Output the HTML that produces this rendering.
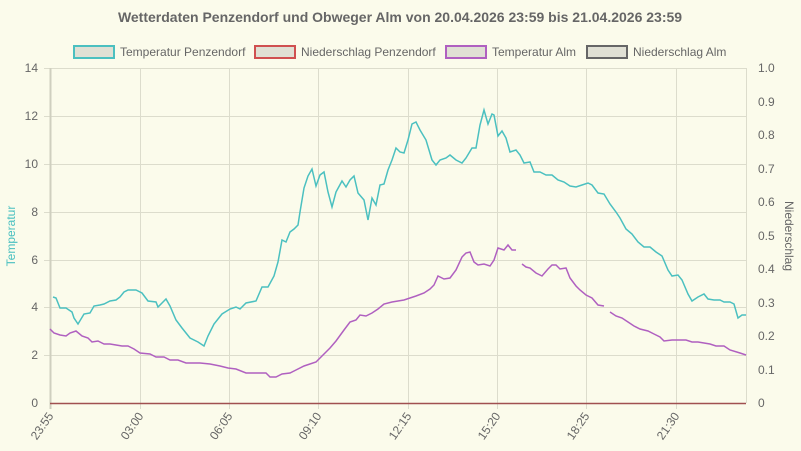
<!DOCTYPE html><html><head><meta charset="utf-8"><style>body{margin:0;background:#fbfbeb}svg{display:block;font-family:"Liberation Sans",sans-serif}</style></head><body>
<svg width="801" height="451" xmlns="http://www.w3.org/2000/svg">
<rect width="801" height="451" fill="#fbfbeb"/>
<text x="400" y="22" text-anchor="middle" font-size="14" font-weight="bold" fill="#666">Wetterdaten Penzendorf und Obweger Alm von 20.04.2026 23:59 bis 21.04.2026 23:59</text>
<g font-size="12" fill="#666">
<rect x="74" y="46" width="40" height="12" fill="#e0e0d4" stroke="#4bc0c0" stroke-width="2"/><text x="120" y="56">Temperatur Penzendorf</text>
<rect x="255" y="46" width="40" height="12" fill="#e0e0d4" stroke="#d05050" stroke-width="2"/><text x="301" y="56">Niederschlag Penzendorf</text>
<rect x="446" y="46" width="40" height="12" fill="#e0e0d4" stroke="#b060c0" stroke-width="2"/><text x="492" y="56">Temperatur Alm</text>
<rect x="587" y="46" width="40" height="12" fill="#e0e0d4" stroke="#666" stroke-width="2"/><text x="633" y="56">Niederschlag Alm</text>
</g>
<g stroke="#dcdccc" stroke-width="1">
<line x1="44" y1="68.5" x2="746" y2="68.5"/><line x1="44" y1="116.5" x2="746" y2="116.5"/><line x1="44" y1="164.5" x2="746" y2="164.5"/><line x1="44" y1="212.5" x2="746" y2="212.5"/><line x1="44" y1="260.5" x2="746" y2="260.5"/><line x1="44" y1="307.5" x2="746" y2="307.5"/><line x1="44" y1="355.5" x2="746" y2="355.5"/>
<line x1="140.5" y1="68" x2="140.5" y2="409"/><line x1="229.5" y1="68" x2="229.5" y2="409"/><line x1="318.5" y1="68" x2="318.5" y2="409"/><line x1="408.5" y1="68" x2="408.5" y2="409"/><line x1="497.5" y1="68" x2="497.5" y2="409"/><line x1="586.5" y1="68" x2="586.5" y2="409"/><line x1="676.5" y1="68" x2="676.5" y2="409"/><line x1="746.5" y1="68" x2="746.5" y2="403"/>
</g>
<line x1="50.5" y1="68" x2="50.5" y2="409" stroke="#cfcfbf" stroke-width="2"/>
<g font-size="12" fill="#666" text-anchor="end">
<text x="38" y="72">14</text><text x="38" y="120">12</text><text x="38" y="168">10</text><text x="38" y="216">8</text><text x="38" y="264">6</text><text x="38" y="311">4</text><text x="38" y="359">2</text><text x="38" y="407">0</text>
</g>
<g font-size="12" fill="#666">
<text x="758" y="72">1.0</text><text x="758" y="106">0.9</text><text x="758" y="139">0.8</text><text x="758" y="173">0.7</text><text x="758" y="206">0.6</text><text x="758" y="240">0.5</text><text x="758" y="273">0.4</text><text x="758" y="307">0.3</text><text x="758" y="340">0.2</text><text x="758" y="374">0.1</text><text x="758" y="407">0</text>
</g>
<text transform="translate(15,236) rotate(-90)" text-anchor="middle" font-size="12" fill="#4bc0c0">Temperatur</text>
<text transform="translate(785,236) rotate(90)" text-anchor="middle" font-size="12" fill="#666">Niederschlag</text>
<g font-size="12" fill="#666" text-anchor="end">
<text transform="translate(54,416) rotate(-55)">23:55</text><text transform="translate(144,416) rotate(-55)">03:00</text><text transform="translate(233,416) rotate(-55)">06:05</text><text transform="translate(322,416) rotate(-55)">09:10</text><text transform="translate(412,416) rotate(-55)">12:15</text><text transform="translate(501,416) rotate(-55)">15:20</text><text transform="translate(590,416) rotate(-55)">18:25</text><text transform="translate(680,416) rotate(-55)">21:30</text>
</g>
<line x1="50" y1="403.5" x2="746" y2="403.5" stroke="#a05050" stroke-width="1.5"/>
<polyline fill="none" stroke="#4bc0c0" stroke-width="1.5" points="53,297 56,298 60,308 66,308 72,312 74,318 78,324 84,314 90,313 94,306 100,305 104,304 110,301 116,300 120,297 124,292 128,290 136,290 142,293 148,301 156,302 158,307 166,299 170,306 176,320 182,328 190,338 198,342 204,346 208,336 214,324 222,314 230,309 236,307 240,309 246,303 256,301 262,287 268,287 274,276 278,262 282,240 286,242 290,232 294,229 298,225 300,212 304,188 308,176 312,169 316,186 320,175 324,172 328,192 332,207 336,192 342,181 346,187 350,180 354,176 358,193 364,200 368,220 372,198 376,205 380,185 384,184 388,170 392,160 396,148 400,152 404,153 408,140 412,124 416,122 420,130 426,140 432,160 436,165 440,160 446,158 450,155 456,160 462,163 466,158 472,148 476,148 480,125 484,110 488,124 492,114 494,115 498,136 502,131 506,138 510,152 516,150 520,155 524,163 530,162 534,172 540,172 546,175 552,175 558,180 564,182 570,186 576,187 582,185 588,183 592,185 598,193 604,194 610,204 616,212 620,218 626,229 632,234 638,242 644,247 650,247 656,252 662,256 668,270 672,276 678,275 682,280 688,294 692,301 698,297 704,294 708,299 714,300 720,300 724,302 730,302 734,304 738,318 742,315 746,315"/>
<g fill="none" stroke="#b060c0" stroke-width="1.5">
<polyline points="50,329 54,333 60,335 66,336 70,333 76,331 82,336 88,338 92,342 98,341 104,344 110,344 116,345 122,346 128,346 134,349 140,353 150,354 156,357 164,357 170,360 178,360 186,363 200,363 210,364 220,366 228,368 236,369 246,373 266,373 270,377 276,377 282,374 290,373 296,370 304,366 316,362 320,358 326,352 330,348 336,341 344,330 350,322 356,320 360,315 366,316 372,313 378,309 384,304 392,302 398,301 404,300 410,298 416,296 424,293 430,289 434,285 438,276 444,279 450,278 456,270 462,257 466,253 470,252 474,262 478,265 484,264 490,266 494,260 498,248 504,250 508,245 512,250 516,250"/>
<polyline points="522,264 526,267 530,268 536,273 542,276 548,269 552,265 556,265 560,269 566,268 570,278 576,286 580,290 586,295 592,298 598,305 604,306"/>
<polyline points="610,312 616,316 622,318 628,322 634,326 640,329 648,331 654,334 660,337 664,341 672,340 686,340 692,342 698,342 710,344 716,346 724,346 730,350 740,353 746,355"/>
</g>
</svg></body></html>
